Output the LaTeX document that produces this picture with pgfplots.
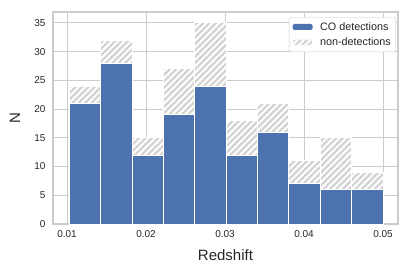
\documentclass[border=0pt]{standalone}
\usepackage{pgfplots}
\pgfplotsset{compat=1.18}
\usepackage{fontspec}
\setmainfont{Liberation Sans}
\usetikzlibrary{patterns.meta}
\definecolor{deepblue}{HTML}{4C72B0}
\definecolor{gridgray}{HTML}{CCCCCC}
\definecolor{hatchgray}{HTML}{D3D3D3}
\definecolor{txt}{HTML}{262626}

\pgfplotstableread{
x        det  non
0.012285 21   3
0.016255 28   4
0.020225 12   3
0.024195 19   8
0.028165 24   11
0.032135 12   6
0.036105 16   5
0.040075 7    4
0.044045 6    9
0.048015 6    3
}\hist

\begin{document}
\begin{tikzpicture}
\useasboundingbox (-53pt,-50pt) rectangle (358pt,224pt);
\begin{axis}[
  scale only axis, width=345pt, height=212pt,
  at={(0,0)}, anchor=south west,
  xmin=0.00823, xmax=0.0519, ymin=0, ymax=36.9,
  ybar stacked, bar width=0.00397,
  xtick={0.01,0.02,0.03,0.04,0.05},
  scaled x ticks=false,
  ytick={0,5,...,35},
  xticklabel style={/pgf/number format/fixed, /pgf/number format/fixed zerofill,
    /pgf/number format/precision=2, /pgf/number format/assume math mode=true, yshift=-3pt},
  yticklabel style={/pgf/number format/assume math mode=true, xshift=-4pt},
  tick label style={font=\fontsize{10}{11}\selectfont, text=txt},
  major tick length=0pt,
  grid=major, grid style={gridgray, line width=0.9pt},
  axis line style={gridgray, line width=1.1pt},
  xlabel={Redshift}, ylabel={N},
  every axis x label/.style={at={(rel axis cs:0.5,0)}, anchor=center, yshift=-31pt},
  every axis y label/.style={at={(rel axis cs:0,0.5)}, rotate=90, anchor=center, yshift=38pt},
  label style={font=\fontsize{15}{16}\selectfont, text=txt},
  legend style={at={(rel axis cs:0.9945,0.976)}, anchor=north east, draw=gridgray,
    rounded corners=2pt, fill=white, font=\fontsize{10.8}{11}\selectfont,
    text=txt, cells={anchor=west}, row sep=2pt, column sep=5pt,
    inner xsep=3pt, inner ysep=3pt},
  legend image code/.code={\path[#1, draw=none] (0pt,-3pt) rectangle (20pt,3pt);},
]
\addplot[fill=deepblue, draw=white, line width=0.9pt] table[x=x,y=det]{\hist};
\addlegendentry{CO detections}
\addplot[fill=hatchgray, draw=white, line width=0.9pt,
  postaction={pattern={Lines[angle=45,distance=4.5pt,line width=2pt]}, pattern color=white}]
  table[x=x,y=non]{\hist};
\addlegendentry{non-detections}
\end{axis}
\end{tikzpicture}
\end{document}
